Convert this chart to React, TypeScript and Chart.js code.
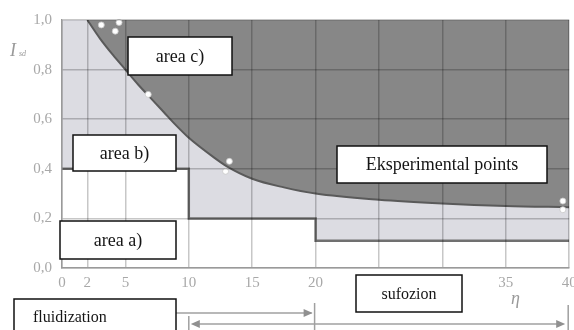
import React, { useEffect, useRef } from "react";
import { Chart, registerables } from "chart.js";
Chart.register(...registerables);

// ---- data ----
const xTickValues = [0, 2, 5, 10, 15, 20, 25, 30, 35, 40];
const yTickValues = [0, 0.2, 0.4, 0.6, 0.8, 1.0];

const curveEta = [2, 3, 4, 5, 6, 7, 8, 9, 10, 12, 13, 15, 17.5, 20, 25, 30, 35, 40];
const curveI = [1.0, 0.925, 0.86, 0.8, 0.74, 0.685, 0.63, 0.575, 0.525, 0.445, 0.41, 0.36, 0.325, 0.3, 0.275, 0.26, 0.25, 0.245];

const stepEta = [0, 10, 20, 40];
const stepI = [0.4, 0.2, 0.11, 0.11];

const pointsEta = [3.1, 4.2, 4.5, 6.8, 12.9, 13.2, 39.5, 39.5];
const pointsI = [0.98, 0.955, 0.99, 0.7, 0.39, 0.43, 0.27, 0.235];

const boxTexts = ["area c)", "area b)", "area a)", "Eksperimental points", "fluidization", "sufozion"];
const yAxisTitle = "I";
const yAxisSub = "sd";
const xAxisTitle = "η";

const SERIF = "'Liberation Serif', 'DejaVu Serif', serif";

// box layout (pixels) for each text above
const boxLayout = [
  { x: 128, y: 37, w: 104, h: 38, size: 18, align: "center" },
  { x: 73, y: 135, w: 103, h: 36, size: 18, align: "center" },
  { x: 60, y: 221, w: 116, h: 38, size: 18, align: "center" },
  { x: 337, y: 146, w: 210, h: 37, size: 18, align: "center" },
  { x: 14, y: 299, w: 162, h: 45, size: 16, align: "left", tx: 33, ty: 318 },
  { x: 356, y: 275, w: 106, h: 37, size: 16, align: "center" },
];

const overlayPlugin = {
  id: "overlay",
  beforeDraw(chart: any) {
    const { ctx, chartArea } = chart;
    ctx.save();
    ctx.fillStyle = "#dcdce2";
    ctx.fillRect(chartArea.left, chartArea.top, chartArea.right - chartArea.left, chartArea.bottom - chartArea.top);
    ctx.restore();
  },
  afterDraw(chart: any) {
    const { ctx } = chart;
    const xs = chart.scales.x;
    ctx.save();
    // arrows
    ctx.strokeStyle = "#a0a0a0";
    ctx.fillStyle = "#909090";
    ctx.lineWidth = 1.5;
    const arrowHead = (x: number, y: number, dir: number) => {
      ctx.beginPath();
      ctx.moveTo(x, y);
      ctx.lineTo(x - dir * 9, y - 4);
      ctx.lineTo(x - dir * 9, y + 4);
      ctx.closePath();
      ctx.fill();
    };
    const x0 = xs.getPixelForValue(0);
    const x10 = xs.getPixelForValue(10);
    const x20 = xs.getPixelForValue(20);
    const x40 = xs.getPixelForValue(40);
    // arrow 1
    ctx.beginPath();
    ctx.moveTo(x0, 313);
    ctx.lineTo(x20 - 4, 313);
    ctx.stroke();
    arrowHead(x20 - 3, 313, 1);
    ctx.beginPath();
    ctx.moveTo(x20 - 1, 303);
    ctx.lineTo(x20 - 1, 330);
    ctx.stroke();
    // arrow 2
    ctx.beginPath();
    ctx.moveTo(x10 + 4, 324);
    ctx.lineTo(x40 - 6, 324);
    ctx.stroke();
    arrowHead(x10 + 2, 324, -1);
    arrowHead(x40 - 4, 324, 1);
    ctx.beginPath();
    ctx.moveTo(x10, 316);
    ctx.lineTo(x10, 330);
    ctx.moveTo(x40 - 1, 305);
    ctx.lineTo(x40 - 1, 330);
    ctx.stroke();

    // boxes
    boxTexts.forEach((t, i) => {
      const b: any = boxLayout[i];
      ctx.fillStyle = "#ffffff";
      ctx.fillRect(b.x, b.y, b.w, b.h);
      ctx.strokeStyle = "#111111";
      ctx.lineWidth = 1.5;
      ctx.strokeRect(b.x, b.y, b.w, b.h);
      ctx.fillStyle = "#151515";
      ctx.font = `${b.size}px ${SERIF}`;
      ctx.textBaseline = "middle";
      if (b.align === "left") {
        ctx.textAlign = "left";
        ctx.fillText(t, b.tx, b.ty);
      } else {
        ctx.textAlign = "center";
        ctx.fillText(t, b.x + b.w / 2, b.y + b.h / 2 + 1);
      }
    });

    // axis titles
    ctx.fillStyle = "#9a9a9a";
    ctx.textAlign = "left";
    ctx.textBaseline = "alphabetic";
    ctx.font = `italic 18px ${SERIF}`;
    ctx.fillText(yAxisTitle, 10, 56);
    ctx.font = `italic 8px ${SERIF}`;
    ctx.fillText(yAxisSub, 19, 56);
    ctx.font = `italic 18px ${SERIF}`;
    ctx.fillText(xAxisTitle, 511, 304);
    ctx.restore();
  },
};

export default function App() {
  const ref = useRef<HTMLCanvasElement | null>(null);
  useEffect(() => {
    document.body.style.margin = "0";
    const canvas = ref.current!;
    const tickFont = { family: SERIF, size: 15 };
    const chart = new Chart(canvas, {
      type: "line",
      data: {
        datasets: [
          {
            type: "scatter",
            data: pointsEta.map((x, i) => ({ x, y: pointsI[i] })),
            pointRadius: 3,
            pointBackgroundColor: "#ffffff",
            pointBorderColor: "#c8c8c8",
            pointBorderWidth: 0.8,
            showLine: false,
            clip: false,
            order: 0,
          } as any,
          {
            type: "line",
            data: curveEta.map((x, i) => ({ x, y: curveI[i] })),
            borderColor: "#5a5a5a",
            borderWidth: 2,
            backgroundColor: "#878787",
            fill: "end",
            pointRadius: 0,
            cubicInterpolationMode: "monotone",
            order: 1,
          } as any,
          {
            type: "line",
            data: stepEta.map((x, i) => ({ x, y: stepI[i] })),
            borderColor: "#707070",
            borderWidth: 2.5,
            backgroundColor: "#ffffff",
            fill: "origin",
            stepped: true,
            pointRadius: 0,
            order: 2,
          } as any,
        ],
      },
      options: {
        responsive: false,
        animation: false,
        events: [],
        layout: { padding: { top: 20, right: 2, left: 0, bottom: 0 } },
        plugins: { legend: { display: false }, tooltip: { enabled: false } },
        scales: {
          x: {
            type: "linear",
            min: 0,
            max: 40,
            afterBuildTicks: (s: any) => {
              s.ticks = xTickValues.map((v) => ({ value: v }));
            },
            afterFit: (s: any) => {
              s.height = 62;
              s.paddingLeft = 0;
              s.paddingRight = 0;
            },
            grid: { color: "rgba(0,0,0,0.22)", lineWidth: 1.5, drawTicks: false, z: 1 },
            border: { display: true, color: "#9a9a9a", width: 1.5, z: 2 },
            ticks: {
              padding: 6,
              color: "#a8a8a8",
              font: tickFont,
              maxRotation: 0,
              autoSkip: false,
              callback: (v: any) => String(v),
            },
          },
          y: {
            type: "linear",
            min: 0,
            max: 1,
            afterBuildTicks: (s: any) => {
              s.ticks = yTickValues.map((v) => ({ value: v }));
            },
            afterFit: (s: any) => {
              s.width = 62;
              s.paddingTop = 0;
              s.paddingBottom = 0;
            },
            grid: { color: "rgba(0,0,0,0.22)", lineWidth: 1.5, drawTicks: false, z: 1 },
            border: { display: true, color: "#9a9a9a", width: 1.5, z: 2 },
            ticks: {
              padding: 10,
              color: "#a8a8a8",
              font: tickFont,
              autoSkip: false,
              callback: (v: any) => Number(v).toFixed(1).replace(".", ","),
            },
          },
        },
      } as any,
      plugins: [overlayPlugin],
    });
    return () => chart.destroy();
  }, []);
  return <canvas ref={ref} width={574} height={330} style={{ display: "block" }} />;
}
